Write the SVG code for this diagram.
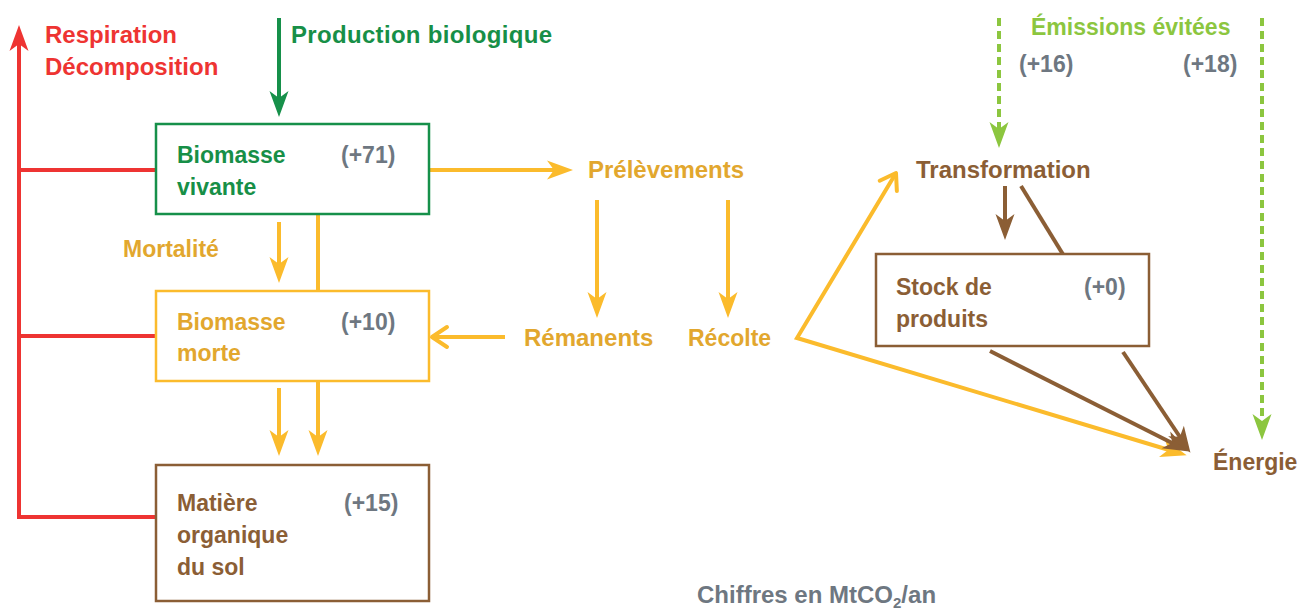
<svg xmlns="http://www.w3.org/2000/svg" width="1301" height="610" viewBox="0 0 1301 610">
  <style>
    text { font-family: "Liberation Sans", Arial, sans-serif; font-weight: bold; font-size: 23px; }
    .big { font-size: 24px; }
    .sub { font-size: 15px; }
    .red { fill: #ee3432; }
    .dgreen { fill: #178f47; }
    .yel { fill: #e2a72e; }
    .brown { fill: #8b5e35; }
    .grey { fill: #6e7781; }
    .lgreen { fill: #8cc63f; }
    .box { fill: #ffffff; stroke-width: 2.5; }
    .ln { fill: none; stroke-width: 4; }
    .s-red { stroke: #ee3432; }
    .s-green { stroke: #16904a; }
    .s-yel { stroke: #fbbb2c; }
    .s-brown { stroke: #8b5e35; }
    .s-lgreen { stroke: #8cc63f; stroke-dasharray: 8 5; }
  </style>
  <defs>
    <marker id="head-red" viewBox="-28 -11 30 22" refX="-8" refY="0" markerWidth="30" markerHeight="22" markerUnits="userSpaceOnUse" orient="auto">
      <path d="M0,0 L-26,-9.5 L-19,0 L-26,9.5 Z" fill="#ee3432"/>
    </marker>
    <marker id="head-green" viewBox="-28 -11 30 22" refX="-8" refY="0" markerWidth="30" markerHeight="22" markerUnits="userSpaceOnUse" orient="auto">
      <path d="M0,0 L-26,-9.5 L-19,0 L-26,9.5 Z" fill="#16904a"/>
    </marker>
    <marker id="head-yel" viewBox="-28 -11 30 22" refX="-8" refY="0" markerWidth="30" markerHeight="22" markerUnits="userSpaceOnUse" orient="auto">
      <path d="M0,0 L-26,-9.5 L-19,0 L-26,9.5 Z" fill="#fbbb2c"/>
    </marker>
    <marker id="head-brown" viewBox="-28 -11 30 22" refX="-8" refY="0" markerWidth="30" markerHeight="22" markerUnits="userSpaceOnUse" orient="auto">
      <path d="M0,0 L-26,-9.5 L-19,0 L-26,9.5 Z" fill="#8b5e35"/>
    </marker>
    <marker id="head-lgreen" viewBox="-28 -11 30 22" refX="-8" refY="0" markerWidth="30" markerHeight="22" markerUnits="userSpaceOnUse" orient="auto">
      <path d="M0,0 L-26,-9.5 L-19,0 L-26,9.5 Z" fill="#8cc63f"/>
    </marker>
    <marker id="chev-yel" viewBox="-20 -13 24 26" refX="0" refY="0" markerWidth="24" markerHeight="26" markerUnits="userSpaceOnUse" orient="auto-start-reverse">
      <path d="M-15,-10 L0,0 L-15,10" fill="none" stroke="#fbbb2c" stroke-width="4" stroke-linecap="round" stroke-linejoin="round"/>
    </marker>
  </defs>

  <!-- connectors -->
  <g id="connectors">
    <!-- respiration / decomposition -->
    <path class="ln s-red" d="M156,517 H19 V33" stroke-linejoin="miter" marker-end="url(#head-red)"/>
    <path class="ln s-red" d="M19,170 H156"/>
    <path class="ln s-red" d="M19,336 H156"/>
    <!-- biological production -->
    <path class="ln s-green" d="M279,18 V109" marker-end="url(#head-green)"/>
    <!-- wood flows -->
    <path class="ln s-yel" d="M429,170 H565" marker-end="url(#head-yel)"/>
    <path class="ln s-yel" d="M279,222 V275" marker-end="url(#head-yel)"/>
    <path class="ln s-yel" d="M318,214 V291"/>
    <path class="ln s-yel" d="M279,388 V448" marker-end="url(#head-yel)"/>
    <path class="ln s-yel" d="M318,382 V448" marker-end="url(#head-yel)"/>
    <path class="ln s-yel" d="M597,200 V310" marker-end="url(#head-yel)"/>
    <path class="ln s-yel" d="M728,200 V310" marker-end="url(#head-yel)"/>
    <path class="ln s-yel" d="M505,337 H432" marker-end="url(#chev-yel)"/>
    <path class="ln s-yel" d="M896,173 L797,338 L1179,453" stroke-linejoin="miter" marker-start="url(#chev-yel)" marker-end="url(#head-yel)"/>
    <!-- products -->
    <path class="ln s-brown" d="M1005,186 V232" marker-end="url(#head-brown)"/>
    <path class="ln s-brown" d="M1021,186 L1064,256"/>
    <path class="ln s-brown" d="M990,351 L1182,448" marker-end="url(#head-brown)"/>
    <path class="ln s-brown" d="M1123,352 L1186,446" marker-end="url(#head-brown)"/>
    <!-- avoided emissions -->
    <path class="ln s-lgreen" d="M999,18 V140" marker-end="url(#head-lgreen)"/>
    <path class="ln s-lgreen" d="M1262,18 V432" marker-end="url(#head-lgreen)"/>
  </g>

  <!-- boxes -->
  <g id="biomasse-vivante">
    <rect class="box s-green" x="156" y="124" width="273" height="90"/>
    <text class="dgreen" x="177" y="163">Biomasse</text>
    <text class="dgreen" x="177" y="195">vivante</text>
    <text class="grey" x="341" y="163">(+71)</text>
  </g>
  <g id="biomasse-morte">
    <rect class="box s-yel" x="156" y="291" width="273" height="90"/>
    <text class="yel" x="177" y="330">Biomasse</text>
    <text class="yel" x="177" y="361">morte</text>
    <text class="grey" x="341" y="330">(+10)</text>
  </g>
  <g id="matiere-organique">
    <rect class="box s-brown" x="156" y="465" width="273" height="136"/>
    <text class="brown" x="177" y="511">Matière</text>
    <text class="brown" x="177" y="543">organique</text>
    <text class="brown" x="177" y="575">du sol</text>
    <text class="grey" x="344" y="511">(+15)</text>
  </g>
  <g id="stock-produits">
    <rect class="box s-brown" x="876" y="254" width="273" height="92"/>
    <text class="brown" x="896" y="295">Stock de</text>
    <text class="brown" x="896" y="327">produits</text>
    <text class="grey" x="1084" y="295">(+0)</text>
  </g>

  <!-- free labels -->
  <g id="respiration">
    <text class="red big" x="45" y="43">Respiration</text>
    <text class="red big" x="45" y="75">Décomposition</text>
  </g>
  <g id="production">
    <text class="dgreen big" x="291" y="43" textLength="261">Production biologique</text>
  </g>
  <g id="mortalite">
    <text class="yel" x="123" y="257">Mortalité</text>
  </g>
  <g id="prelevements">
    <text class="yel big" x="588" y="178">Prélèvements</text>
  </g>
  <g id="remanents">
    <text class="yel big" x="524" y="346">Rémanents</text>
  </g>
  <g id="recolte">
    <text class="yel" x="688" y="346">Récolte</text>
  </g>
  <g id="transformation">
    <text class="brown big" x="916" y="178">Transformation</text>
  </g>
  <g id="energie">
    <text class="brown" x="1213" y="470">Énergie</text>
  </g>
  <g id="emissions">
    <text class="lgreen" x="1031" y="35">Émissions évitées</text>
    <text class="grey" x="1019" y="72">(+16)</text>
    <text class="grey" x="1183" y="72">(+18)</text>
  </g>
  <g id="unites">
    <text class="grey big" x="697" y="603">Chiffres en MtCO<tspan class="sub" dy="5">2</tspan><tspan dy="-5">/an</tspan></text>
  </g>
</svg>
